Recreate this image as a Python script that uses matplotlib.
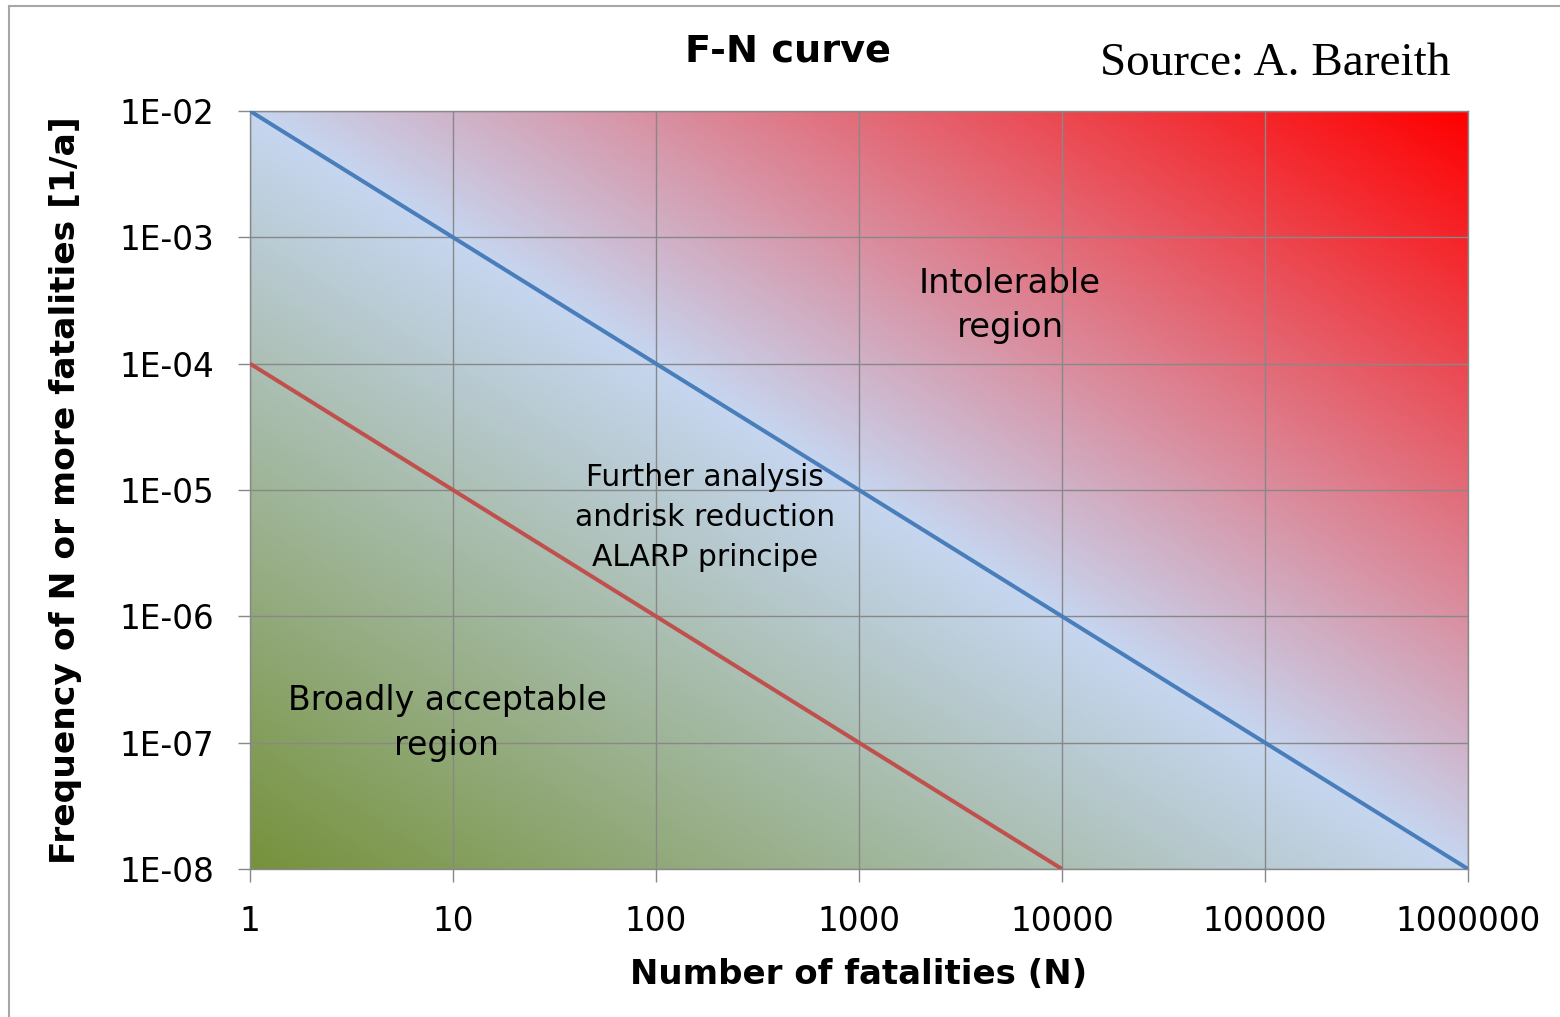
import numpy as np
import matplotlib
matplotlib.use('Agg')
import matplotlib.pyplot as plt
from matplotlib.colors import LinearSegmentedColormap
from matplotlib.lines import Line2D

# F-N criterion lines (N, F)
n_upper = [1, 1e6]
f_upper = [1e-2, 1e-8]
n_lower = [1, 1e4]
f_lower = [1e-4, 1e-8]

x_ticks = [1, 10, 100, 1000, 10000, 100000, 1000000]
x_ticklabels = ['1', '10', '100', '1000', '10000', '100000', '1000000']
y_ticks = [1e-8, 1e-7, 1e-6, 1e-5, 1e-4, 1e-3, 1e-2]
y_ticklabels = ['1E-08', '1E-07', '1E-06', '1E-05', '1E-04', '1E-03', '1E-02']

# background gradient stops: acceptable -> ALARP -> intolerable
grad_colors = ['#76923c', '#c6d6f0', '#ff0000']

W, H = 1560, 1017
fig = plt.figure(figsize=(W / 100, H / 100), dpi=100)
ax = fig.add_axes([250 / W, 1 - 869 / H, 1218 / W, 758 / H])

# diagonal gradient, bands parallel to the upper criterion line
cmap = LinearSegmentedColormap.from_list('fn', grad_colors)
u, v = np.meshgrid(np.linspace(0, 1, 600), np.linspace(0, 1, 400))
ax.imshow((u + v) / 2, cmap=cmap, vmin=0, vmax=1, origin='lower',
          extent=[0, 1, 0, 1], transform=ax.transAxes, aspect='auto',
          interpolation='bilinear', zorder=0)

ax.set_xscale('log')
ax.set_yscale('log')
ax.set_xlim(1, 1e6)
ax.set_ylim(1e-8, 1e-2)

ax.grid(True, which='major', color='#888888', lw=1.0, zorder=1)
ax.minorticks_off()

ax.plot(n_upper, f_upper, color='#4a7ebb', lw=2.9, zorder=3, solid_capstyle='butt')
ax.plot(n_lower, f_lower, color='#c0504d', lw=2.9, zorder=3, solid_capstyle='butt')

ax.set_xticks(x_ticks)
ax.set_xticklabels(x_ticklabels)
ax.set_yticks(y_ticks)
ax.set_yticklabels(y_ticklabels)
ax.tick_params(axis='both', direction='out', length=9, width=1, color='#888888')
ax.tick_params(axis='y', pad=17, labelsize=23.5)
ax.tick_params(axis='x', pad=17, labelsize=23.5)

for s in ax.spines.values():
    s.set_color('#888888')
    s.set_linewidth(1)

ax.set_xlabel('Number of fatalities (N)', fontsize=24.5, fontweight='bold', labelpad=14)
ax.set_ylabel('Frequency of N or more fatalities [1/a]', fontsize=24.8,
              fontweight='bold', labelpad=27)

fig.text(788 / W, 1 - 51 / H, 'F-N curve', fontsize=27.5, fontweight='bold',
         ha='center', va='center')
fig.text(1100 / W, 1 - 64 / H, 'Source: A. Bareith', fontsize=34,
         family='Liberation Serif', ha='left', va='center')

ax.text(5550, 2.9e-4, 'Intolerable\nregion', fontsize=24.4, ha='center', va='center',
        linespacing=1.43, zorder=4)
ax.text(174, 6.1e-6, 'Further analysis\nandrisk reduction\nALARP principe',
        fontsize=21.4, ha='center', va='center', linespacing=1.48, zorder=4)
ax.text(9.34, 1.43e-7, 'Broadly acceptable\nregion', fontsize=23.9, ha='center',
        va='center', linespacing=1.43, zorder=4)

# outer chart-area border (left and top edges visible)
fig.add_artist(Line2D([9 / W, 9 / W], [0, 1 - 6 / H], transform=fig.transFigure,
                      color='#a6a6a6', lw=1.5))
fig.add_artist(Line2D([9 / W, 1], [1 - 6 / H, 1 - 6 / H], transform=fig.transFigure,
                      color='#a6a6a6', lw=1.5))

fig.savefig('out.png', dpi=100, facecolor='white')
